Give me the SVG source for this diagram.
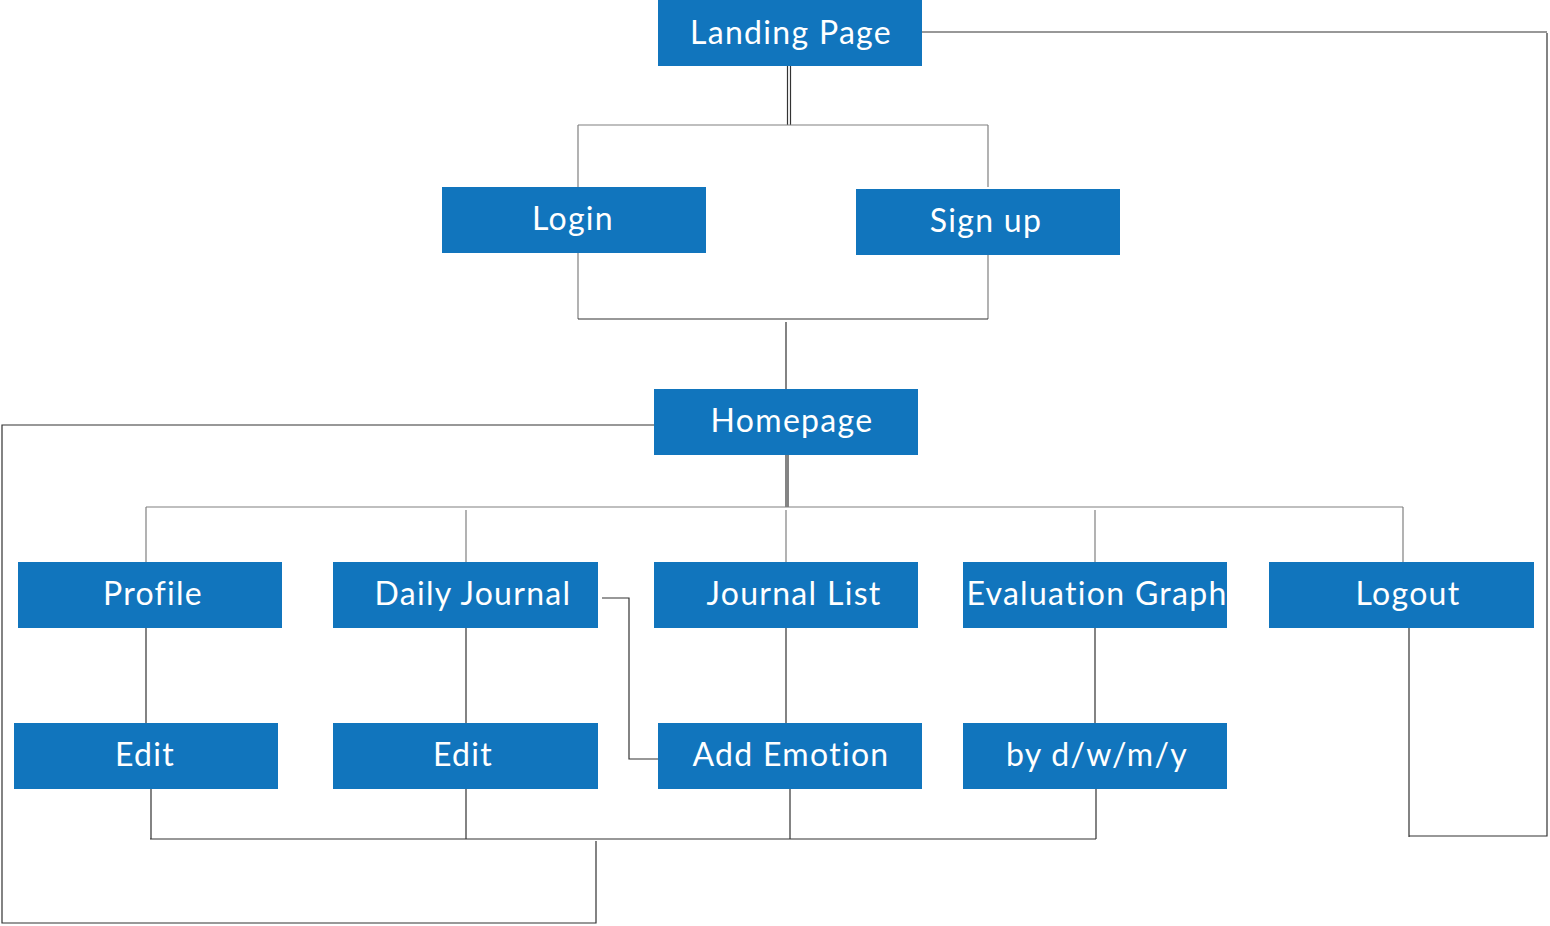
<svg xmlns="http://www.w3.org/2000/svg" width="1550" height="926" viewBox="0 0 1550 926">
<style>
.box{fill:#1175bd}
.lbl{fill:#ffffff;font-family:Lato,"Noto Sans",sans-serif;font-size:32px;letter-spacing:1.3px;text-anchor:middle}
.ln{stroke:#333333;stroke-width:1.2;fill:none}
.lg{stroke:#808080;stroke-width:1.2;fill:none}
</style>
<rect width="1550" height="926" fill="#ffffff"/>
<g id="connectors">
<path class="ln" d="M787.5 66V125M790.5 66V125"/>
<path class="lg" d="M578 125H988M578 125V187M988 125V187"/>
<path class="lg" d="M578 253V319M988 255V319"/>
<path class="ln" d="M578 319H988M786 322V389"/>
<path class="ln" d="M654 425H2V923H596V841"/>
<path class="ln" d="M786 455V507M788 455V507"/>
<path class="lg" d="M146 507H1403M146 507V562M466 510V562M786 510V562M1095 510V562M1403 507V562"/>
<path class="ln" d="M146 628V723M466 628V723M786 628V723M1095 628V723"/>
<path class="ln" d="M151 789V839M466 789V839M790 789V839M1096 789V839M150 839H1096"/>
<path class="ln" d="M602 598H629V759H658"/>
<path class="ln" d="M1409 628V837M1409 836H1547V33M922 32H1547"/>
</g>
<g id="landing"><rect class="box" x="658" y="0" width="264" height="66"/><text class="lbl" x="791" y="44">Landing Page</text></g>
<g id="login"><rect class="box" x="442" y="187" width="264" height="66"/><text class="lbl" x="573" y="230">Login</text></g>
<g id="signup"><rect class="box" x="856" y="189" width="264" height="66"/><text class="lbl" x="986" y="232">Sign up</text></g>
<g id="homepage"><rect class="box" x="654" y="389" width="264" height="66"/><text class="lbl" x="792" y="432">Homepage</text></g>
<g id="profile"><rect class="box" x="18" y="562" width="264" height="66"/><text class="lbl" x="153" y="605">Profile</text></g>
<g id="dailyjournal"><rect class="box" x="333" y="562" width="265" height="66"/><text class="lbl" x="473" y="605">Daily Journal</text></g>
<g id="journallist"><rect class="box" x="654" y="562" width="264" height="66"/><text class="lbl" x="794" y="605">Journal List</text></g>
<g id="evalgraph"><rect class="box" x="963" y="562" width="264" height="66"/><text class="lbl" x="1097" y="605">Evaluation Graph</text></g>
<g id="logout"><rect class="box" x="1269" y="562" width="265" height="66"/><text class="lbl" x="1408" y="605">Logout</text></g>
<g id="edit1"><rect class="box" x="14" y="723" width="264" height="66"/><text class="lbl" x="145" y="766">Edit</text></g>
<g id="edit2"><rect class="box" x="333" y="723" width="265" height="66"/><text class="lbl" x="463" y="766">Edit</text></g>
<g id="addemotion"><rect class="box" x="658" y="723" width="264" height="66"/><text class="lbl" x="791" y="766">Add Emotion</text></g>
<g id="bydwmy"><rect class="box" x="963" y="723" width="264" height="66"/><text class="lbl" x="1097" y="766">by d/w/m/y</text></g>
</svg>
